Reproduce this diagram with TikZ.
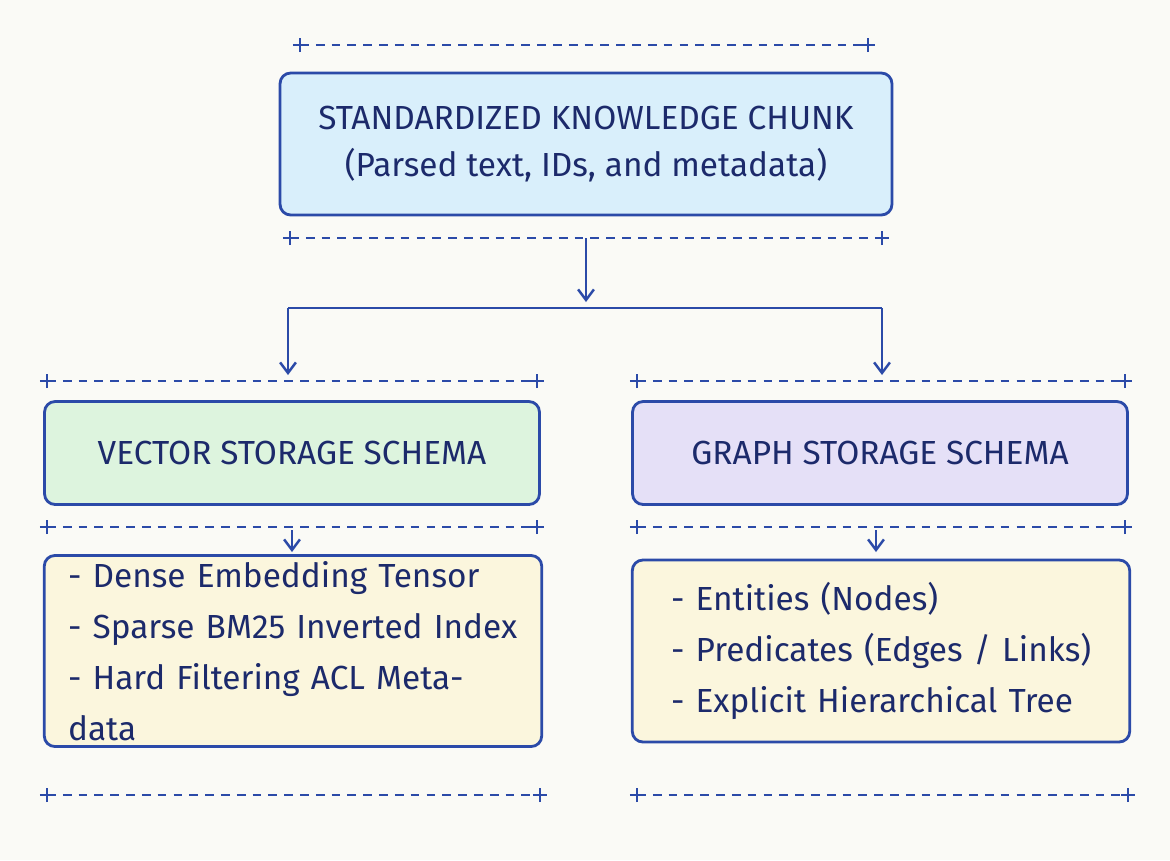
\documentclass[tikz,border=0pt]{standalone}
\usepackage{fontspec}
\setmainfont{Fira Sans}
\usetikzlibrary{positioning,arrows.meta}
\definecolor{inkblue}{HTML}{2B4AA8}
\definecolor{textnavy}{HTML}{1C2A6B}
\definecolor{chunkfill}{HTML}{D9EFFB}
\definecolor{vecfill}{HTML}{DDF4DE}
\definecolor{graphfill}{HTML}{E5E0F7}
\definecolor{listfill}{HTML}{FBF6DD}
\definecolor{paper}{HTML}{FAFAF6}
\tikzset{
  box/.style={draw=inkblue, line width=1.6pt, rounded corners=6pt, text=textnavy,
              font=\fontsize{19}{27}\selectfont, align=center},
  listbox/.style={box, fill=listfill, align=left, minimum width=9.95cm,
                  minimum height=3.64cm, text width=9.0cm,
                  font=\fontsize{19}{29}\selectfont},
  link/.style={draw=inkblue, line width=1.4pt, -{Straight Barb[length=6pt,width=9pt]}},
  rule/.style={draw=inkblue, line width=1.1pt, dash pattern=on 5pt off 4pt}
}
\newcommand{\plusrule}[3]{%
  \draw[rule] (#2,#1) -- (#3,#1);
  \foreach \px in {#2,#3}{
    \draw[inkblue, line width=1.1pt] ([xshift=-4pt]\px,#1) -- ([xshift=4pt]\px,#1)
      ([yshift=-4pt]\px,#1) -- ([yshift=4pt]\px,#1);}}
\begin{document}
\begin{tikzpicture}[x=0.02cm,y=-0.02cm]
    \fill[paper] (0,0) rectangle (1170,860);
    % top chunk
    \node[box, fill=chunkfill, minimum width=12.24cm, minimum height=2.84cm]
      (chunk) at (586,144) {STANDARDIZED KNOWLEDGE CHUNK\\(Parsed text, IDs, and metadata)};
    \plusrule{45}{300}{868}
    \plusrule{238}{290}{882}
    % schemas
    \node[box, fill=vecfill, minimum width=9.9cm, minimum height=2.06cm]
      (vector) at (292,453) {VECTOR STORAGE SCHEMA};
    \node[box, fill=graphfill, minimum width=9.9cm, minimum height=2.06cm]
      (graph) at (880,453) {GRAPH STORAGE SCHEMA};
    \plusrule{381}{47}{537}
    \plusrule{381}{637}{1125}
    \plusrule{527}{47}{537}
    \plusrule{527}{637}{1125}
    % lists
    \node[listbox] (veclist) at (293,651)
      {- Dense Embedding Tensor\\- Sparse BM25 Inverted Index\\- Hard Filtering ACL Metadata};
    \node[listbox] (graphlist) at (881,651)
      {\hspace*{0.3cm}- Entities (Nodes)\\\hspace*{0.3cm}- Predicates (Edges / Links)\\\hspace*{0.3cm}- Explicit Hierarchical Tree};
    \plusrule{795}{47}{540}
    \plusrule{795}{637}{1128}
    % connectors
    \coordinate (split) at (586,308);
    \draw[link] (586,238) -- (586,302);
    \draw[link, -] (288,308) -- (882,308);
    \draw[link] (288,308) -- (288,375);
    \draw[link] (882,308) -- (882,375);
    \draw[link] (292,530) -- (292,552);
    \draw[link] (876,530) -- (876,552);
\end{tikzpicture}
\end{document}
